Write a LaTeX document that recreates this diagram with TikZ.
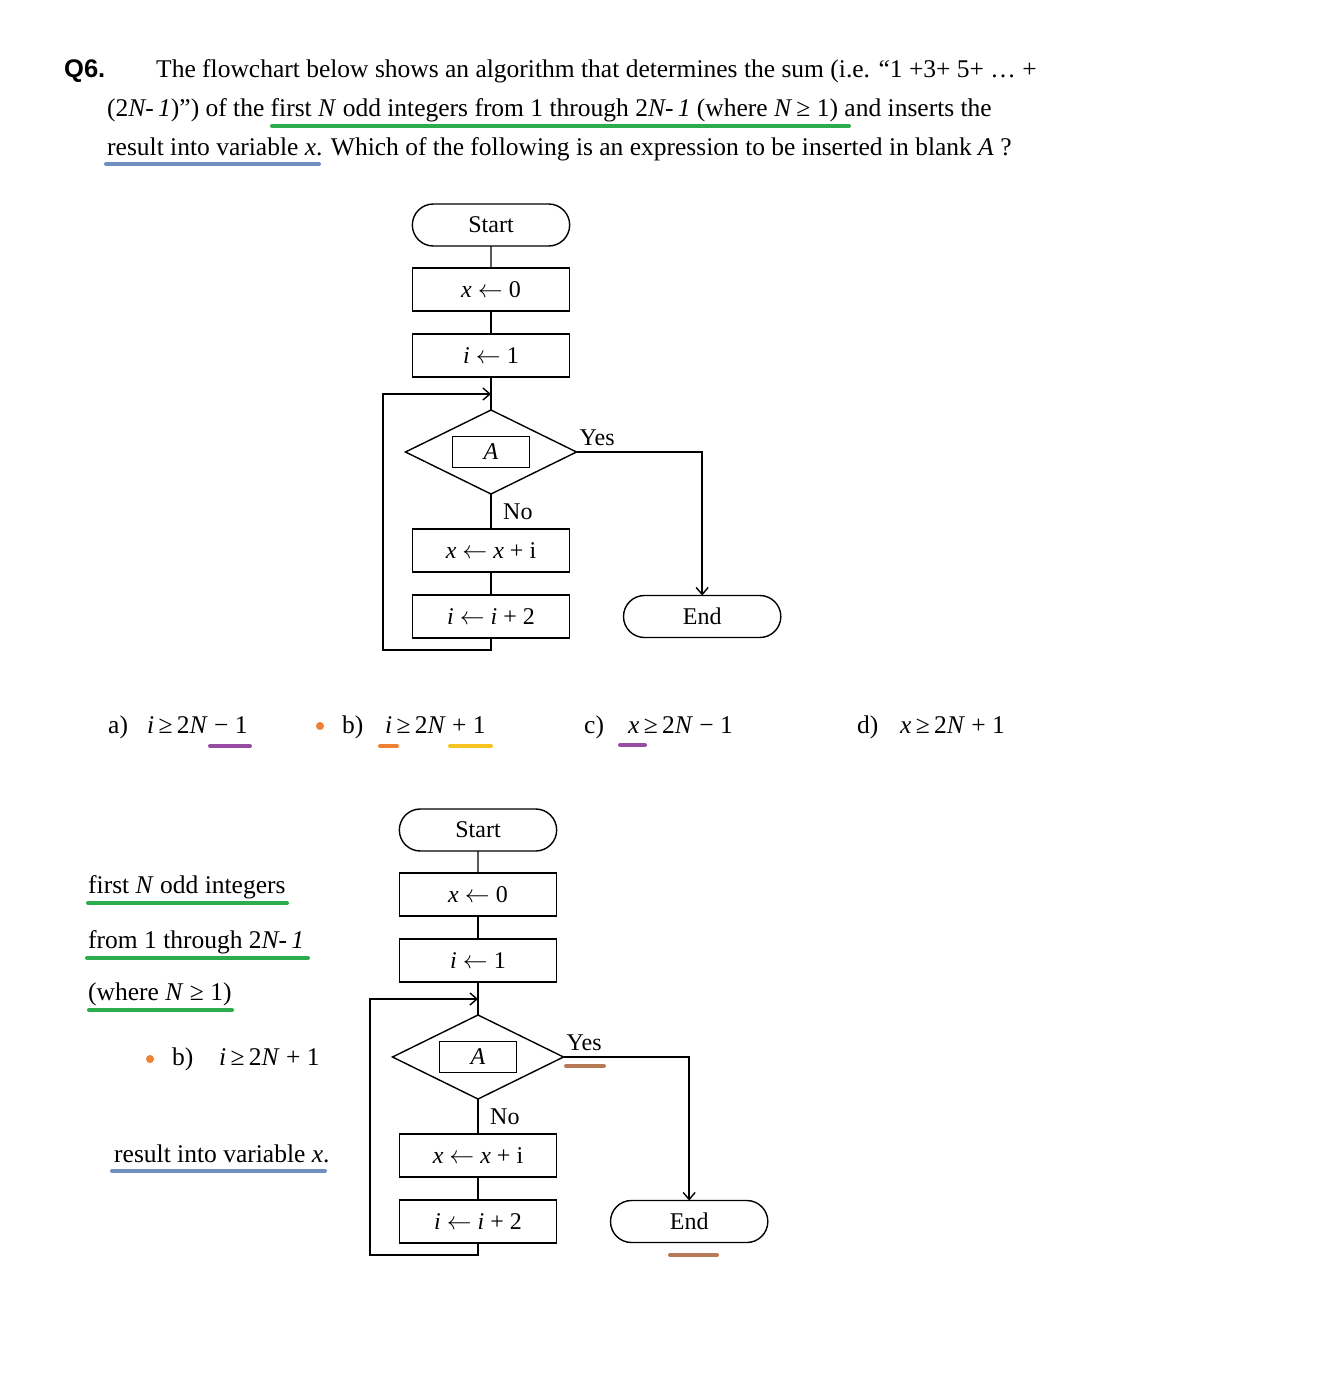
\documentclass[tikz,border=0pt]{standalone}
\usepackage{fontspec}
\setmainfont{Liberation Serif}
\newfontfamily\qfont{Liberation Sans}
\usepackage{tikz}
\usetikzlibrary{arrows.meta,positioning,shapes.geometric,shapes.misc}
\usepackage{xcolor}
\definecolor{hlgreen}{RGB}{44,172,76}
\definecolor{hlblue}{RGB}{112,142,190}
\definecolor{hlpurple}{RGB}{152,76,164}
\definecolor{hlorange}{RGB}{240,128,52}
\definecolor{hlyellow}{RGB}{245,196,32}
\definecolor{hlbrown}{RGB}{184,122,86}

\begin{document}
\begin{tikzpicture}[x=1pt,y=-1pt,>={Straight Barb[length=7pt,width=12pt]},
  txt/.style={anchor=base west,inner sep=0pt,font=\fontsize{25.5}{30}\selectfont},
  lbl/.style={anchor=base west,inner sep=0pt,font=\fontsize{24}{28}\selectfont},
  terminal/.style={draw,rounded rectangle,minimum width=164pt,minimum height=42pt,outer sep=0pt,line width=1.4pt,font=\fontsize{24}{28}\selectfont},
  procbox/.style={draw,rectangle,minimum width=157pt,minimum height=43pt,outer sep=0pt,line width=1.4pt,font=\fontsize{24}{28}\selectfont},
  decision/.style={draw,diamond,minimum width=171pt,minimum height=84pt,inner sep=0pt,outer sep=0pt,line width=1.4pt},
  blankbox/.style={draw,rectangle,minimum width=77pt,minimum height=31pt,outer sep=0pt,line width=1.4pt,font=\fontsize{24}{28}\selectfont\itshape},
  flow/.style={line width=1.4pt},
  hl/.style={line width=4pt,line cap=round},
  dot/.style={circle,fill=hlorange,inner sep=0pt,minimum size=8pt}]
\useasboundingbox[fill=white] (0,0) rectangle (1326,1382);

% question
\node[txt,font=\fontsize{25.5}{30}\qfont\bfseries] (q-num) at (64,77) {Q6.};
\node[txt] (q-line1) at (156,77) {The flowchart below shows an algorithm that determines the sum (i.e. “1 +3+ 5+ … +};
\node[txt] (q-line2) at (107,116) {(2\textit{N-\,1})”) of the first \textit{N} odd integers from 1 through 2\textit{N-\,1} (where \textit{N}\,≥ 1) and inserts the};
\node[txt] (q-line3) at (107,155) {result into variable \textit{x}. Which of the following is an expression to be inserted in blank \textit{A} ?};
\draw[hl,hlgreen] (272,126) -- (849,126);
\draw[hl,hlblue] (106,164) -- (319,164);

% flowcharts
\foreach \p/\sx/\sy in {t/0/0,b/-13/605}{
\begin{scope}[shift={(\sx,\sy)}]
\node[terminal] (\p-start) at (491,225) {Start};
\node[procbox, below=22pt of \p-start] (\p-x0) {\textit{x} $\leftarrow$ 0};
\node[procbox, below=23pt of \p-x0] (\p-i1) {\textit{i} $\leftarrow$ 1};
\node[decision, below=33pt of \p-i1] (\p-dec) {};
\node[blankbox] (\p-A) at (\p-dec) {A};
\node[procbox, below=35pt of \p-dec] (\p-add) {\textit{x} $\leftarrow$ \textit{x} + i};
\node[procbox, below=23pt of \p-add] (\p-inc) {\textit{i} $\leftarrow$ \textit{i} + 2};
\node[terminal, right=54pt of \p-inc] (\p-end) {End};
\node[lbl] (\p-yes) at ([shift={(3pt,7pt)}]\p-dec.east) {Yes};
\node[lbl] (\p-no) at ([shift={(12pt,-25pt)}]\p-dec.south) {No};
\coordinate (\p-join) at ([yshift=-17pt]\p-i1.south);
\coordinate (\p-loop) at ([xshift=-108pt]\p-join);
\draw[flow] (\p-start) -- (\p-x0);
\draw[flow] (\p-x0) -- (\p-i1);
\draw[flow] (\p-i1) -- (\p-dec);
\draw[flow] (\p-dec) -- (\p-add);
\draw[flow] (\p-add) -- (\p-inc);
\draw[flow,->] (\p-dec.east) -| (\p-end.north);
\draw[flow,->] (\p-inc.south) -- ++(0,12) -| (\p-loop) -- (\p-join);
\end{scope}}

% answers
\node[txt] (opt-a) at (108,733) {a)};
\node[txt] (exp-a) at (147,733) {\textit{i}\,≥\,2\textit{N} − 1};
\node[dot] (dot-b) at (320,726) {};
\node[txt] (opt-b) at (342,733) {b)};
\node[txt] (exp-b) at (385,733) {\textit{i}\,≥\,2\textit{N} + 1};
\node[txt] (opt-c) at (584,733) {c)};
\node[txt] (exp-c) at (628,733) {\textit{x}\,≥\,2\textit{N} − 1};
\node[txt] (opt-d) at (857,733) {d)};
\node[txt] (exp-d) at (900,733) {\textit{x}\,≥\,2\textit{N} + 1};
\draw[hl,hlpurple] (210,746) -- (250,746);
\draw[hl,hlorange] (380,746) -- (397,746);
\draw[hl,hlyellow] (450,746) -- (491,746);
\draw[hl,hlpurple] (620,745) -- (645,745);

% notes
\node[txt] (note-1) at (88,893) {first \textit{N} odd integers};
\node[txt] (note-2) at (88,948) {from 1 through 2\textit{N-\,1}};
\node[txt] (note-3) at (88,1000) {(where \textit{N} ≥ 1)};
\node[dot] (dot-note) at (150,1059) {};
\node[txt] (note-b) at (172,1065) {b)};
\node[txt] (note-exp) at (219,1065) {\textit{i}\,≥\,2\textit{N} + 1};
\node[txt] (note-4) at (114,1162) {result into variable \textit{x}.};
\draw[hl,hlgreen] (88,903) -- (287,903);
\draw[hl,hlgreen] (87,958) -- (308,958);
\draw[hl,hlgreen] (89,1010) -- (232,1010);
\draw[hl,hlblue] (112,1171) -- (325,1171);
\draw[hl,hlbrown] (566,1066) -- (604,1066);
\draw[hl,hlbrown] (670,1255) -- (717,1255);
\end{tikzpicture}
\end{document}
